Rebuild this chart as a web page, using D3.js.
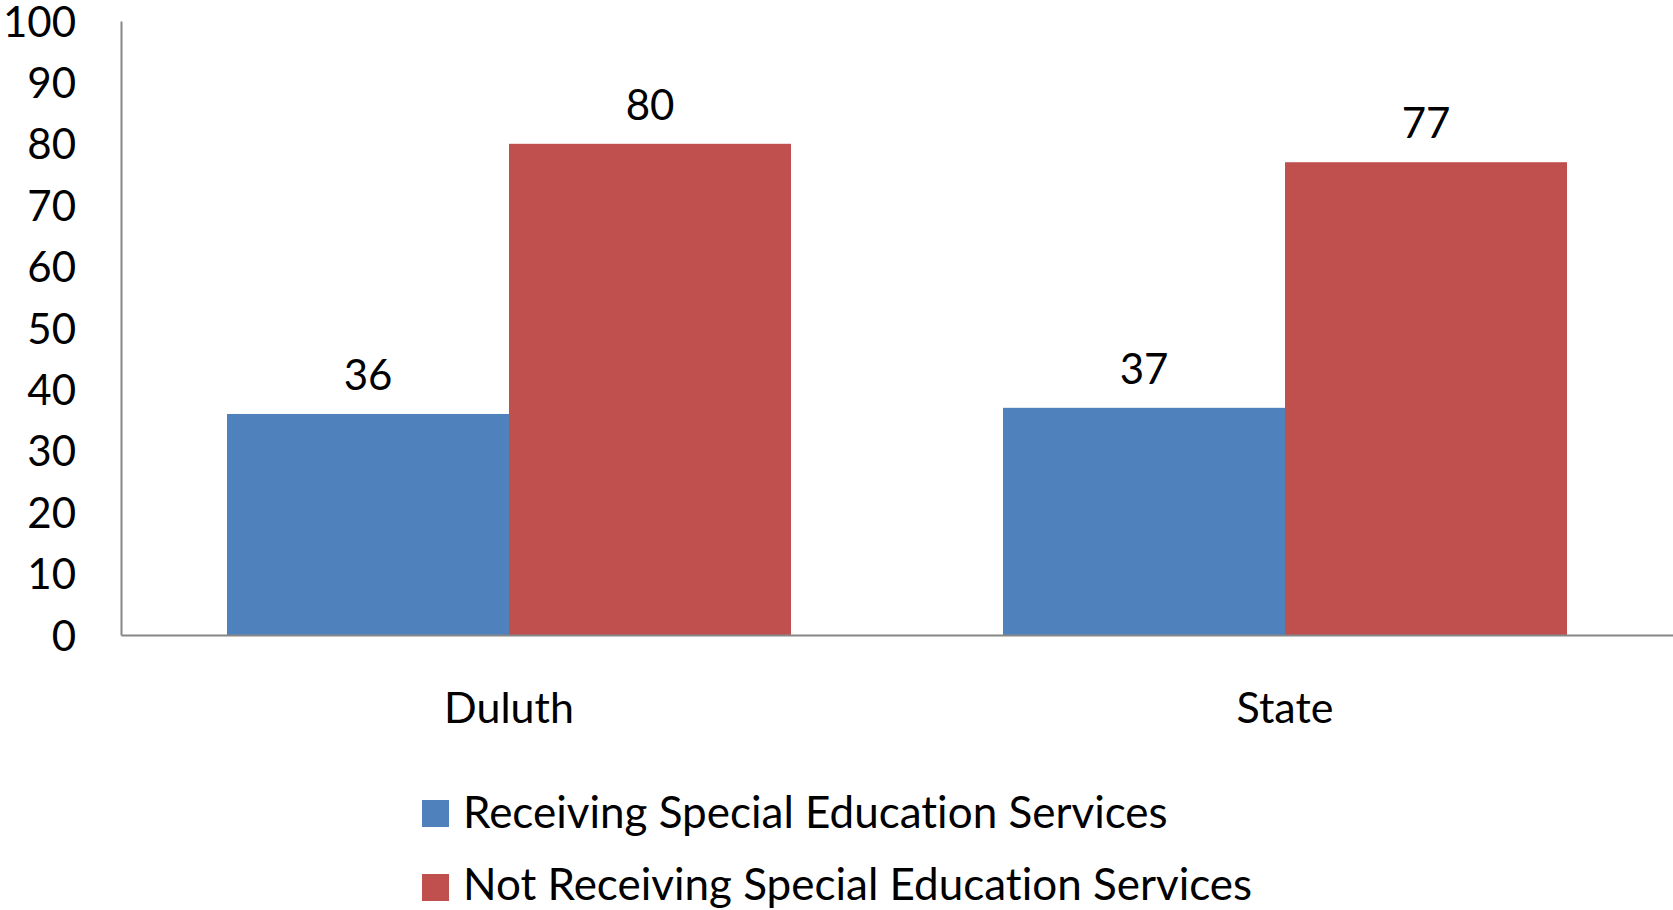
<!DOCTYPE html>
<html><head><meta charset="utf-8">
<script src="https://cdn.jsdelivr.net/npm/d3@7"></script>
<style>body{margin:0;background:#fff}svg text{font-family:Lato,"Open Sans",sans-serif;fill:#000;font-variant-ligatures:none;font-feature-settings:"liga" 0}</style>
</head><body><svg id="c" width="1673" height="910"></svg>
<script>
const categories = ["Duluth", "State"];
const seriesNames = ["Receiving Special Education Services", "Not Receiving Special Education Services"];
const receiving = [36, 37];
const notReceiving = [80, 77];
const yTicks = [0,10,20,30,40,50,60,70,80,90,100];
const colors = ["#4F81BD", "#C0504D"];

const svg = d3.select("#c");
const m = {left:121, right:1673, top:21, bottom:635};
const x0 = d3.scaleBand().domain(categories).range([m.left, m.right]).paddingInner(0.2732).paddingOuter(0.1366);
const x1 = d3.scaleBand().domain([0,1]).range([0, x0.bandwidth()]);
const y = d3.scaleLinear().domain([0,100]).range([m.bottom, m.top]);
const series = [receiving, notReceiving];

// bars
series.forEach((vals, si) => {
  svg.append("g").selectAll("rect").data(vals).join("rect")
    .attr("x", (d,i)=>x0(categories[i]) + x1(si))
    .attr("y", d=>y(d))
    .attr("width", x1.bandwidth())
    .attr("height", d=>y(0)-y(d))
    .attr("fill", colors[si]);
  svg.append("g").selectAll("text").data(vals).join("text")
    .attr("x", (d,i)=>x0(categories[i]) + x1(si) + x1.bandwidth()/2)
    .attr("y", d=>y(d) - 24)
    .attr("text-anchor","middle")
    .attr("font-size", 42)
    .text(d=>d);
});

// y axis
const ya = svg.append("g").attr("transform",`translate(${m.left},0)`)
  .call(d3.axisLeft(y).tickValues(yTicks).tickSize(0).tickPadding(45));
ya.select(".domain").attr("stroke","#878787").attr("stroke-width",2);
ya.selectAll("text").attr("font-size",42).attr("font-family","Lato").attr("fill","#000").attr("dy","0.36em");

// x axis
const xa = svg.append("g").attr("transform",`translate(0,${m.bottom})`)
  .call(d3.axisBottom(d3.scaleLinear().domain([0,1]).range([m.left,m.right])).tickValues([]).tickSizeOuter(0));
xa.select(".domain").attr("stroke","#878787").attr("stroke-width",2);

svg.append("g").selectAll("text").data(categories).join("text")
  .attr("x", d=>x0(d)+x0.bandwidth()/2)
  .attr("y", 723)
  .attr("text-anchor","middle")
  .attr("font-size",43)
  .text(d=>d);

// legend
const lg = svg.append("g");
seriesNames.forEach((n,i)=>{
  lg.append("rect").attr("x",422).attr("y",800+i*74).attr("width",27).attr("height",27).attr("fill",colors[i]);
  lg.append("text").attr("x",463).attr("y",828+i*72).attr("font-size",44).text(n);
});
</script></body></html>
